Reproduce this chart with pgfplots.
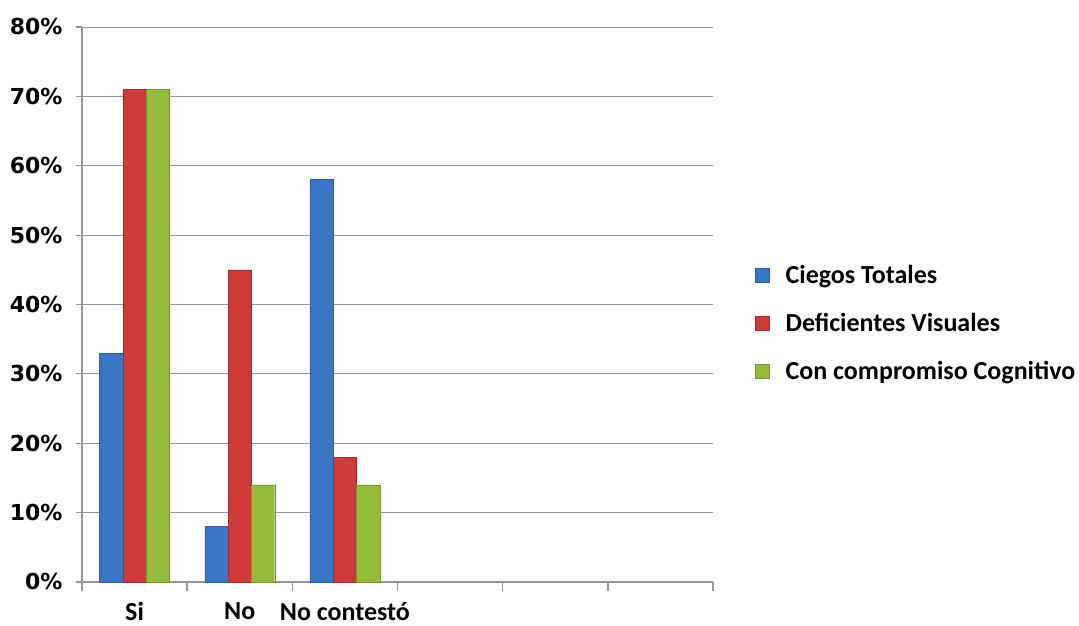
\documentclass[border=0pt]{standalone}
\usepackage{pgfplots}
\pgfplotsset{compat=1.18}
\usepackage{fontspec}
\setmainfont{Carlito}
\newfontfamily\dejavu{DejaVu Sans}
\definecolor{cblue}{RGB}{58,118,196}
\definecolor{cred}{RGB}{205,58,56}
\definecolor{cgreen}{RGB}{148,188,60}
\definecolor{gridc}{RGB}{150,150,150}
\begin{document}
\begin{tikzpicture}
\begin{axis}[
  name=ax,
  at={(0,0)}, anchor=south west,
  scale only axis,
  width=631pt, height=555pt,
  ybar=0pt, bar width=23.3pt,
  xmin=-0.5, xmax=5.5,
  ymin=0, ymax=80,
  axis lines*=left,
  axis line style={gridc, line width=1.4pt},
  xtick={0,1,2},
  xticklabels={Si,No,No contestó},
  major x tick style={draw=none},
  minor xtick={-0.5,0.5,1.5,2.5,3.5,4.5,5.5},
  minor x tick style={gridc, line width=1.4pt},
  minor tick length=9pt,
  tick align=outside,
  ytick={0,10,...,80},
  yticklabels={0\%,10\%,20\%,30\%,40\%,50\%,60\%,70\%,80\%},
  major y tick style={gridc, line width=1.2pt},
  major tick length=6pt,
  ymajorgrids,
  grid style={gridc, line width=0.9pt},
  yticklabel style={font=\dejavu\bfseries\fontsize{22}{24}\selectfont, xshift=-10pt},
  xticklabel style={font=\bfseries\fontsize{26}{28}\selectfont, yshift=-11pt},
  legend style={at={(1.0666,0.4667)}, anchor=west, draw=none, fill=none,
    font=\bfseries\fontsize{26}{28}\selectfont,
    row sep=24pt, inner sep=0pt},
  legend cell align=left,
  legend image code/.code={\fill[#1] (0pt,-7pt) rectangle (14pt,7pt); \path (28pt,0pt);},
  clip=false,
]
\addplot[draw=cblue!80!black, line width=0.4pt, fill=cblue] coordinates {(0,33) (1,8) (2,58)};
\addplot[draw=cred!80!black, line width=0.4pt, fill=cred] coordinates {(0,71) (1,45) (2,18)};
\addplot[draw=cgreen!80!black, line width=0.4pt, fill=cgreen] coordinates {(0,71) (1,14) (2,14)};
\legend{Ciegos Totales,Deficientes Visuales,Con compromiso Cognitivo}
\end{axis}
\pgfresetboundingbox
\path[use as bounding box] ([shift={(-82pt,-44pt)}]ax.south west) rectangle ([shift={(366pt,27pt)}]ax.north east);
\end{tikzpicture}
\end{document}
